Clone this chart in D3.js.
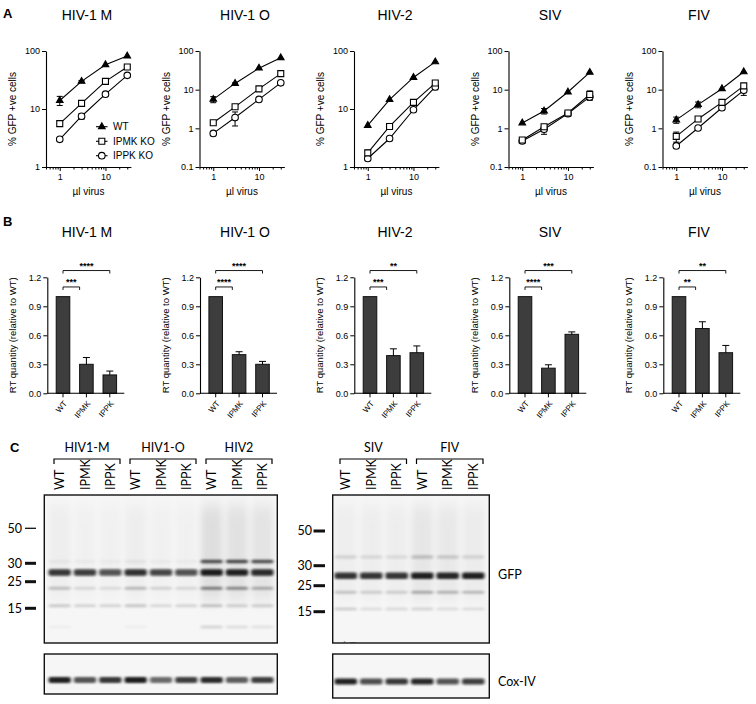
<!DOCTYPE html>
<html><head><meta charset="utf-8">
<script src="https://cdn.jsdelivr.net/npm/d3@7"></script>
<style>body{margin:0;background:#fff}svg{display:block}</style>
</head><body>
<svg id="c" width="756" height="704"></svg>
<script>
// ================= DATA =================
// Panel A: % GFP +ve cells vs µl virus
const doses = [1, 3, 10, 30];
const panelTitles = ["HIV-1 M", "HIV-1 O", "HIV-2", "SIV", "FIV"];
const seriesLabels = ["WT", "IPMK KO", "IPPK KO"];
const yMinA = [1, 0.1, 1, 0.1, 0.1];
const xMinorTicks = [0.5, 0.6, 0.7, 0.8, 0.9, 2, 3, 4, 5, 6, 7, 8, 9, 20, 30];
const xMajorTicks = [1, 10];

const hiv1m_WT = [14, 30, 58, 82],   hiv1m_WT_err = [2.5, 1, 0, 0];
const hiv1m_IPMK = [5.6, 12.5, 30, 53], hiv1m_IPMK_err = [0.6, 0.8, 2, 4];
const hiv1m_IPPK = [3.0, 7.5, 18, 38],  hiv1m_IPPK_err = [0.2, 0.8, 1, 3];

const hiv1o_WT = [5.6, 14.5, 36, 67],   hiv1o_WT_err = [1.0, 0.5, 0, 0];
const hiv1o_IPMK = [1.4, 3.6, 10.5, 26], hiv1o_IPMK_err = [0.1, 0.3, 0.6, 1.5];
const hiv1o_IPPK = [0.74, 1.9, 5.6, 15], hiv1o_IPPK_err = [0.05, 0.75, 0.3, 1];

const hiv2_WT = [5.2, 14.5, 35, 65],    hiv2_WT_err = [0, 0, 0, 0];
const hiv2_IPMK = [1.75, 5.0, 13, 28],  hiv2_IPMK_err = [0.2, 0.3, 1, 2];
const hiv2_IPPK = [1.4, 3.1, 9.7, 24],  hiv2_IPPK_err = [0.1, 0.2, 0.5, 2.5];

const siv_WT = [1.38, 2.8, 8.7, 28],    siv_WT_err = [0, 0.45, 0, 0];
const siv_IPMK = [0.5, 1.1, 2.5, 7.5],  siv_IPMK_err = [0.03, 0.1, 0.2, 1.8];
const siv_IPPK = [0.47, 0.95, 2.4, 6.5], siv_IPPK_err = [0.03, 0.25, 0.2, 1.2];

const fiv_WT = [1.65, 4.1, 10.6, 29],   fiv_WT_err = [0.3, 0.7, 0, 0];
const fiv_IPMK = [0.62, 1.75, 4.7, 12.5], fiv_IPMK_err = [0.18, 0.25, 0.8, 1.5];
const fiv_IPPK = [0.35, 1.02, 3.4, 9.6],  fiv_IPPK_err = [0.03, 0.1, 0.3, 2.5];

// Panel B: RT quantity relative to WT
const rtCategories = ["WT", "IPMK", "IPPK"];
const rt_hiv1m = [1.0, 0.30, 0.19], rt_hiv1m_err = [0, 0.07, 0.04];
const rt_hiv1o = [1.0, 0.40, 0.30], rt_hiv1o_err = [0, 0.03, 0.03];
const rt_hiv2  = [1.0, 0.39, 0.42], rt_hiv2_err  = [0, 0.07, 0.07];
const rt_siv   = [1.0, 0.26, 0.61], rt_siv_err   = [0, 0.035, 0.025];
const rt_fiv   = [1.0, 0.67, 0.42], rt_fiv_err   = [0, 0.07, 0.075];
const rtSigIPMK = ["***", "****", "***", "****", "**"];
const rtSigIPPK = ["****", "****", "**", "***", "**"];
const rtTicks = [0, 0.3, 0.6, 0.9, 1.2];

// Panel C: western blots
const laneLabels = ["WT", "IPMK", "IPPK"];
const blotLeftGroups = ["HIV1-M", "HIV1-O", "HIV2"];
const blotRightGroups = ["SIV", "FIV"];
const mwMarkers = [50, 30, 25, 15];
const bandMWLeft = [31, 27.5, 22.5, 16, 8];
const gfpLeft = [
  [0.04, 0.03, 0.03, 0.05, 0.03, 0.03, 0.72, 0.75, 0.72],   // ~31 kDa
  [0.85, 0.82, 0.72, 0.88, 0.78, 0.72, 0.97, 0.95, 0.9],    // GFP ~27 kDa
  [0.22, 0.12, 0.1, 0.25, 0.14, 0.12, 0.5, 0.45, 0.3],      // ~22 kDa
  [0.18, 0.14, 0.14, 0.2, 0.12, 0.14, 0.22, 0.16, 0.16],    // ~16 kDa
  [0.03, 0, 0, 0.03, 0, 0, 0.14, 0.1, 0.08]                 // low
];
const smearLeft = [0.03, 0.02, 0.02, 0.03, 0.02, 0.02, 0.09, 0.08, 0.07];
const coxLeft = [0.95, 0.72, 0.85, 0.97, 0.62, 0.82, 0.9, 0.68, 0.82];
const bandMWRight = [35, 27.5, 22.5, 16];
const gfpRight = [
  [0.12, 0.1, 0.09, 0.2, 0.16, 0.12],
  [0.86, 0.85, 0.85, 0.95, 0.92, 0.95],
  [0.2, 0.16, 0.16, 0.3, 0.26, 0.24],
  [0.16, 0.1, 0.12, 0.14, 0.1, 0.1]
];
const smearRight = [0.03, 0.03, 0.03, 0.06, 0.05, 0.04];
const coxRight = [0.95, 0.75, 0.85, 0.92, 0.72, 0.82];

// ================= DRAWING =================
const svg = d3.select("#c");
svg.append("rect").attr("width", 756).attr("height", 704).attr("fill", "#fff");
const fA = "'Liberation Sans', Arial, sans-serif";
const fC = "Lato, 'Open Sans', sans-serif";

const defs = svg.append("defs");
const flt = defs.append("filter").attr("id", "blur").attr("x", "-30%").attr("y", "-150%").attr("width", "160%").attr("height", "400%");
flt.append("feGaussianBlur").attr("stdDeviation", "1.4 1.0");
const flt2 = defs.append("filter").attr("id", "blur2").attr("x", "-50%").attr("y", "-50%").attr("width", "200%").attr("height", "200%");
flt2.append("feGaussianBlur").attr("stdDeviation", "3 8");

// panel letters
[["A", 3, 18], ["B", 3, 226], ["C", 10, 452]].forEach(([t, x, y]) =>
  svg.append("text").attr("x", x).attr("y", y).attr("font-family", fA).attr("font-weight", "bold").attr("font-size", 13).text(t));

function styleAxis(g, fs) {
  g.selectAll("path.domain").attr("stroke", "#000").attr("stroke-width", 1.1);
  g.selectAll(".tick line").attr("stroke", "#000").attr("stroke-width", 1);
  g.selectAll(".tick text").attr("font-family", fA).attr("font-size", fs).attr("fill", "#000");
}

// ---------- Panel A ----------
const aData = [
  [[hiv1m_WT, hiv1m_WT_err], [hiv1m_IPMK, hiv1m_IPMK_err], [hiv1m_IPPK, hiv1m_IPPK_err]],
  [[hiv1o_WT, hiv1o_WT_err], [hiv1o_IPMK, hiv1o_IPMK_err], [hiv1o_IPPK, hiv1o_IPPK_err]],
  [[hiv2_WT, hiv2_WT_err], [hiv2_IPMK, hiv2_IPMK_err], [hiv2_IPPK, hiv2_IPPK_err]],
  [[siv_WT, siv_WT_err], [siv_IPMK, siv_IPMK_err], [siv_IPPK, siv_IPPK_err]],
  [[fiv_WT, fiv_WT_err], [fiv_IPMK, fiv_IPMK_err], [fiv_IPPK, fiv_IPPK_err]]
];
const aAxisX = [46, 199.5, 354, 508.5, 662.5];
const titleX = [87, 245, 395, 550, 699];
const aTop = 51, aBot = 167, decadeX = 45.7;

const symGen = [d3.symbol(d3.symbolTriangle, 19), d3.symbol(d3.symbolSquare, 36), d3.symbol(d3.symbolCircle, 34)];
function drawMarker(g, k, cx, cy) {
  g.append("path").attr("d", symGen[k]()).attr("transform", `translate(${cx},${cy})`)
    .attr("fill", k === 0 ? "#000" : "#fff").attr("stroke", "#000").attr("stroke-width", 1.1);
}

panelTitles.forEach((title, i) => {
  const g = svg.append("g");
  const ax = aAxisX[i];
  const x = d3.scaleLog().domain([0.5, 36]).range([ax, ax + decadeX * Math.log10(72)]);
  const y = d3.scaleLog().domain([yMinA[i], 100]).range([aBot, aTop]);

  svg.append("text").attr("x", titleX[i]).attr("y", 20).attr("text-anchor", "middle")
    .attr("font-family", fA).attr("font-size", 14).text(title);

  const yTicks = yMinA[i] === 1 ? [1, 10, 100] : [0.1, 1, 10, 100];
  const ya = g.append("g").attr("transform", `translate(${ax},0)`)
    .call(d3.axisLeft(y).tickValues(yTicks).tickFormat(d3.format("~g")).tickSize(4).tickSizeOuter(0).tickPadding(2));
  styleAxis(ya, 9);
  const xm = g.append("g").attr("transform", `translate(0,${aBot})`)
    .call(d3.axisBottom(x).tickValues(xMinorTicks).tickFormat("").tickSize(2.5).tickSizeOuter(0));
  styleAxis(xm, 9);
  const xM = g.append("g").attr("transform", `translate(0,${aBot})`)
    .call(d3.axisBottom(x).tickValues(xMajorTicks).tickFormat(d3.format("~g")).tickSize(4).tickSizeOuter(0).tickPadding(3));
  styleAxis(xM, 9);
  xM.select("path.domain").remove();

  g.append("text").attr("transform", `translate(${ax - 30},${(aTop + aBot) / 2}) rotate(-90)`)
    .attr("text-anchor", "middle").attr("font-family", fA).attr("font-size", 10).text("% GFP +ve cells");
  g.append("text").attr("x", (x.range()[0] + x.range()[1]) / 2).attr("y", 195).attr("text-anchor", "middle")
    .attr("font-family", fA).attr("font-size", 10).text("µl virus");

  const line = d3.line().x(d => x(d[0])).y(d => y(d[1]));
  aData[i].forEach(([vals, errs]) => {
    g.append("path").attr("d", line(doses.map((d, j) => [d, vals[j]])))
      .attr("fill", "none").attr("stroke", "#000").attr("stroke-width", 1.1);
  });
  aData[i].forEach(([vals, errs]) => {
    doses.forEach((d, j) => {
      if (!errs[j]) return;
      const cx = x(d), y1 = y(vals[j] + errs[j]), y0 = y(Math.max(vals[j] - errs[j], yMinA[i]));
      g.append("line").attr("x1", cx).attr("x2", cx).attr("y1", y0).attr("y2", y1).attr("stroke", "#000").attr("stroke-width", 1);
      [y0, y1].forEach(yy => g.append("line").attr("x1", cx - 3).attr("x2", cx + 3).attr("y1", yy).attr("y2", yy).attr("stroke", "#000").attr("stroke-width", 1));
    });
  });
  [2, 1, 0].forEach(k => {
    const vals = aData[i][k][0];
    doses.forEach((d, j) => drawMarker(g, k, x(d), y(vals[j])));
  });

  if (i === 0) {
    const ly = [126.7, 141.3, 155.7];
    seriesLabels.forEach((s, k) => {
      g.append("line").attr("x1", 96).attr("x2", 107.5).attr("y1", ly[k]).attr("y2", ly[k]).attr("stroke", "#000").attr("stroke-width", 1.1);
      drawMarker(g, k, 101.8, ly[k]);
      g.append("text").attr("x", 113).attr("y", ly[k] + 3.5).attr("font-family", fA).attr("font-size", 10).text(s);
    });
  }
});

// ---------- Panel B ----------
const bVals = [rt_hiv1m, rt_hiv1o, rt_hiv2, rt_siv, rt_fiv];
const bErrs = [rt_hiv1m_err, rt_hiv1o_err, rt_hiv2_err, rt_siv_err, rt_fiv_err];
const bAxisX = [47.3, 200, 354.3, 509.3, 663.3];
const bTop = 277.3, bBot = 393.3;
panelTitles.forEach((title, i) => {
  const g = svg.append("g");
  const ax = bAxisX[i];
  const x = d3.scaleBand().domain(rtCategories).range([ax + 4, ax + 74.2]).paddingInner(0.42).paddingOuter(0.21);
  const y = d3.scaleLinear().domain([0, 1.2]).range([bBot, bTop]);
  svg.append("text").attr("x", titleX[i]).attr("y", 236.5).attr("text-anchor", "middle")
    .attr("font-family", fA).attr("font-size", 14).text(title);

  rtCategories.forEach((c, j) => {
    g.append("rect").attr("x", x(c)).attr("width", x.bandwidth()).attr("y", y(bVals[i][j]))
      .attr("height", y(0) - y(bVals[i][j])).attr("fill", "#3d3d3d").attr("stroke", "#111").attr("stroke-width", 1);
    if (bErrs[i][j] > 0) {
      const cx = x(c) + x.bandwidth() / 2, y1 = y(bVals[i][j] + bErrs[i][j]);
      g.append("line").attr("x1", cx).attr("x2", cx).attr("y1", y(bVals[i][j])).attr("y2", y1).attr("stroke", "#000").attr("stroke-width", 1);
      g.append("line").attr("x1", cx - 3.5).attr("x2", cx + 3.5).attr("y1", y1).attr("y2", y1).attr("stroke", "#000").attr("stroke-width", 1);
    }
  });

  const ya = g.append("g").attr("transform", `translate(${ax},0)`)
    .call(d3.axisLeft(y).tickValues(rtTicks).tickFormat(d3.format(".1f")).tickSize(4).tickSizeOuter(0).tickPadding(2));
  styleAxis(ya, 9);
  const xa = g.append("g").attr("transform", `translate(0,${bBot})`)
    .call(d3.axisBottom(x).tickSize(4).tickSizeOuter(0).tickPadding(2));
  styleAxis(xa, 8);
  xa.select("path.domain").remove();
  xa.selectAll(".tick text").attr("text-anchor", "end").attr("dy", "0.3em").attr("transform", "translate(-2,5) rotate(-50)");
  g.append("line").attr("x1", ax).attr("x2", ax + 77).attr("y1", bBot).attr("y2", bBot).attr("stroke", "#000").attr("stroke-width", 1.1);

  g.append("text").attr("transform", `translate(${ax - 31},${(bTop + bBot) / 2}) rotate(-90)`)
    .attr("text-anchor", "middle").attr("font-family", fA).attr("font-size", 9.5).text("RT quantity (relative to WT)");

  const cWT = x("WT") + x.bandwidth() / 2;
  const sig = [[x("IPMK"), y(1.1), rtSigIPMK[i]], [x("IPPK") + x.bandwidth() / 2, y(1.27), rtSigIPPK[i]]];
  sig.forEach(([x2, yy, s]) => {
    g.append("path").attr("d", `M${cWT},${yy + 3}V${yy}H${x2}V${yy + 3}`).attr("fill", "none").attr("stroke", "#000").attr("stroke-width", 0.9);
    g.append("text").attr("x", (cWT + x2) / 2).attr("y", yy - 1.5).attr("text-anchor", "middle")
      .attr("font-family", fA).attr("font-size", 9).attr("font-weight", "bold").text(s);
  });
});

// ---------- Panel C ----------
function drawBlot(opts) {
  const { groups, left, right, laneRange, mwRange, bandMW, gfp, smear, cox, markerTextX, dashX, thinFirst, coxBandY, coxBottom } = opts;
  const nL = groups.length * 3;
  const lanes = d3.range(nL);
  const lx = d3.scaleBand().domain(lanes).range(laneRange);
  const my = d3.scaleLinear().domain(mwMarkers).range(mwRange);
  const boxTop = 495, boxBot = 643, coxTop = 654;
  const g = svg.append("g");

  groups.forEach((gr, k) => {
    const x0 = lx(k * 3) + 7, x1 = lx(k * 3 + 2) + lx.bandwidth() - 3;
    g.append("text").attr("x", (x0 + x1) / 2).attr("y", 451.5).attr("text-anchor", "middle")
      .attr("font-family", fC).attr("font-size", 12.5).text(gr);
    g.append("path").attr("d", `M${x0},464V459H${x1}V464`).attr("fill", "none").attr("stroke", "#000").attr("stroke-width", 1.2);
  });
  lanes.forEach(l => {
    g.append("text").attr("transform", `translate(${lx(l) + lx.bandwidth() / 2 + 4.5},490) rotate(-90)`)
      .attr("font-family", fC).attr("font-size", 12.5).text(laneLabels[l % 3]);
  });

  g.append("rect").attr("x", left).attr("y", boxTop).attr("width", right - left).attr("height", boxBot - boxTop).attr("fill", "#f6f6f6");
  const clipId = "clip" + Math.round(left);
  defs.append("clipPath").attr("id", clipId).append("rect").attr("x", left).attr("y", boxTop).attr("width", right - left).attr("height", boxBot - boxTop);
  const inner = g.append("g").attr("clip-path", `url(#${clipId})`);
  lanes.forEach(l => {
    inner.append("rect").attr("x", lx(l) + 2).attr("width", lx.bandwidth() - 4).attr("y", boxTop + 10).attr("height", 95)
      .attr("fill", "#000").attr("opacity", smear[l]).attr("filter", "url(#blur2)");
  });
  bandMW.forEach((mw, r) => {
    const h = r === 1 ? 6.5 : (gfp[r][0] > 0.5 || r === 0 ? 3.5 : 3);
    lanes.forEach(l => {
      if (!gfp[r][l]) return;
      inner.append("rect").attr("x", lx(l) + 1.5).attr("width", lx.bandwidth() - 3)
        .attr("y", my(mw) - h / 2).attr("height", h).attr("rx", 2)
        .attr("fill", "#141414").attr("opacity", gfp[r][l]).attr("filter", "url(#blur)");
    });
  });
  g.append("rect").attr("x", left).attr("y", boxTop).attr("width", right - left).attr("height", boxBot - boxTop)
    .attr("fill", "none").attr("stroke", "#111").attr("stroke-width", 1.4);

  mwMarkers.forEach((mw, k) => {
    g.append("text").attr("x", markerTextX).attr("y", my(mw) + 4.3).attr("text-anchor", "end")
      .attr("font-family", fC).attr("font-size", 12.5).text(mw);
    const th = (thinFirst && k === 0) ? 1.3 : 3;
    g.append("rect").attr("x", dashX[0]).attr("width", dashX[1] - dashX[0]).attr("y", my(mw) - th / 2).attr("height", th).attr("fill", "#111");
  });

  g.append("rect").attr("x", left).attr("y", coxTop).attr("width", right - left).attr("height", coxBottom - coxTop).attr("fill", "#f6f6f6");
  lanes.forEach(l => {
    g.append("rect").attr("x", lx(l) + 1.5).attr("width", lx.bandwidth() - 3)
      .attr("y", coxBandY - 3).attr("height", 6).attr("rx", 2)
      .attr("fill", "#141414").attr("opacity", cox[l]).attr("filter", "url(#blur)");
  });
  g.append("rect").attr("x", left).attr("y", coxTop).attr("width", right - left).attr("height", coxBottom - coxTop)
    .attr("fill", "none").attr("stroke", "#111").attr("stroke-width", 1.4);
  return { g, inner, lx };
}

drawBlot({ groups: blotLeftGroups, left: 44.3, right: 277.3, laneRange: [47, 275], mwRange: [528.3, 563.3, 581.7, 608.3],
  bandMW: bandMWLeft, gfp: gfpLeft, smear: smearLeft, cox: coxLeft, markerTextX: 22, dashX: [25, 36], thinFirst: true, coxBandY: 680, coxBottom: 694 });
const rb = drawBlot({ groups: blotRightGroups, left: 332.7, right: 489.3, laneRange: [333, 486], mwRange: [531, 565.7, 585.7, 611.7],
  bandMW: bandMWRight, gfp: gfpRight, smear: smearRight, cox: coxRight, markerTextX: 312, dashX: [313.5, 325], thinFirst: false, coxBandY: 681.5, coxBottom: 698 });
rb.inner.append("text").attr("x", 343).attr("y", 650).attr("font-family", fC).attr("font-size", 12).attr("fill", "#999").text("kD");

svg.append("text").attr("x", 498).attr("y", 579).attr("font-family", fC).attr("font-size", 12.5).text("GFP");
svg.append("text").attr("x", 498).attr("y", 686).attr("font-family", fC).attr("font-size", 12.5).text("Cox-IV");
</script>
</body></html>
